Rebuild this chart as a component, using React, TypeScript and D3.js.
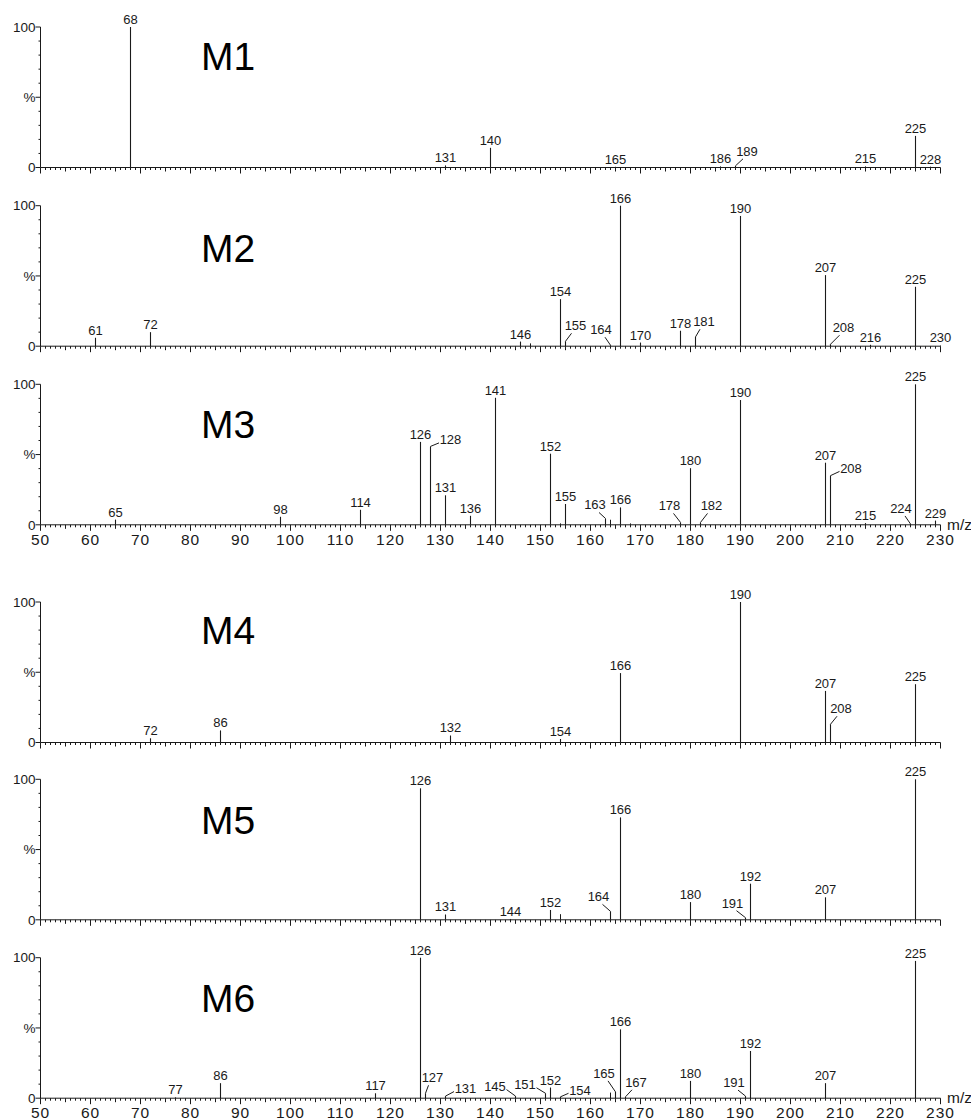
import React from "react";
import * as d3 from "d3";

// ---------- data ----------
const titles = ["M1", "M2", "M3", "M4", "M5", "M6"];

const m1Mz = [68, 131, 140, 165, 186, 189, 215, 225, 228];
const m1Int = [100, 1.5, 14, 0.5, 0.8, 1.2, 0.8, 22.5, 0.6];

const m2Mz = [61, 72, 146, 154, 155, 164, 166, 170, 178, 181, 190, 207, 208, 216, 225, 230];
const m2Int = [6, 10, 3.3, 33.5, 3.5, 0.7, 100, 2.6, 11, 6.6, 92.7, 50.6, 1.4, 1, 42.3, 0.5];

const m3Mz = [65, 98, 114, 126, 128, 131, 136, 141, 152, 155, 163, 166, 178, 180, 182, 190, 207, 208, 215, 224, 225, 229];
const m3Int = [3.7, 5.7, 10.7, 59, 55.8, 21, 6.4, 90.4, 50.6, 14.8, 4.5, 12.4, 1.7, 40.3, 1.7, 88.8, 44.2, 35, 1.2, 0.6, 100, 3];

const m4Mz = [72, 86, 132, 154, 166, 190, 207, 208, 225];
const m4Int = [3, 8.6, 5, 2.5, 49.4, 100, 36.7, 13, 41.5];

const m5Mz = [126, 131, 144, 152, 164, 166, 180, 191, 192, 207, 225];
const m5Int = [93.6, 3.8, 0.6, 7, 6, 72.9, 12.6, 1.5, 25.7, 16, 100];

const m6Mz = [77, 86, 117, 126, 127, 131, 145, 151, 152, 154, 165, 166, 167, 180, 191, 192, 207, 225];
const m6Int = [0.6, 10.7, 3.5, 100, 3.5, 1.5, 1.5, 3.5, 7.6, 1, 4.5, 49, 1, 12.3, 1.5, 33.6, 10.7, 97.7];

// unlabeled minor peaks
const minorMz = [[], [148], [154, 164, 168], [], [154], [164]];
const minorInt = [[], [2], [1, 3.6, 1], [], [4], [4]];

const xTickValues = d3.range(50, 231, 10);
const yTickLabels = ["0", "%", "100"];

// ---------- layout ----------
const W = 971;
const H = 1120;
const panelTops = [27, 205.7, 384.3, 602, 779.3, 957.7];
const panelH = 140.5;
const titleBaselines = [70, 262, 438, 644, 834, 1012];
const titleX = 201;
const panelsWithXLabels = [2, 5];
// leader-line labels: [panel, mz, label dx, label rise above bar top]
const leaders: [number, number, number, number][] = [
  [0, 189, 11.5, 10],
  [1, 155, 10, 11], [1, 164, -9.5, 11], [1, 181, 8.5, 10.7], [1, 208, 13, 12],
  [2, 128, 20, 2], [2, 163, -10.5, 9], [2, 178, -11, 12], [2, 182, 11, 12], [2, 208, 20.5, 2.7], [2, 224, -9.5, 11],
  [3, 208, 10.5, 11],
  [4, 164, -12, 10], [4, 191, -13, 10],
  [5, 127, 7, 11], [5, 131, 20, 3], [5, 145, -20.5, 5], [5, 151, -20.5, 4], [5, 154, 19.5, 2],
  [5, 165, -11.5, 14], [5, 167, 10.5, 10], [5, 191, -11.5, 9],
];

const FONT = "'Liberation Sans', Arial, Helvetica, sans-serif";
const INK = "#1a1a1a";

const allMz = [m1Mz, m2Mz, m3Mz, m4Mz, m5Mz, m6Mz];
const allInt = [m1Int, m2Int, m3Int, m4Int, m5Int, m6Int];

const x = d3.scaleLinear().domain([50, 230]).range([40.5, 940.5]);

function Panel({ i }: { i: number }) {
  const top = panelTops[i];
  const zero = top + panelH;
  const y = d3.scaleLinear().domain([0, 100]).range([zero, top]);
  const mz = allMz[i];
  const ints = allInt[i];
  const minorTicks = d3.range(50, 231, 1);
  const yMinor = d3.range(0, 101, 10);

  return (
    <g>
      {/* y axis */}
      <line x1={x(50)} x2={x(50)} y1={y(0)} y2={y(100)} stroke={INK} strokeWidth={1} />
      {yMinor.map((v) => {
        const major = v === 0 || v === 50 || v === 100;
        return (
          <line key={"ym" + v} x1={x(50) - (major ? 5 : 2)} x2={x(50)} y1={y(v)} y2={y(v)} stroke={INK} strokeWidth={1} />
        );
      })}
      {[0, 50, 100].map((v, k) => (
        <text key={"yl" + v} x={x(50) - 5} y={y(v)} dy="0.35em" textAnchor="end" fontSize={13.5} fontFamily={FONT} fill={INK}>
          {yTickLabels[k]}
        </text>
      ))}
      {/* x axis */}
      <line x1={x(50)} x2={x(230)} y1={zero} y2={zero} stroke={INK} strokeWidth={1} />
      {minorTicks.map((v) => {
        const len = v % 10 === 0 ? 6 : v % 5 === 0 ? 4 : 2.5;
        return <line key={"xt" + v} x1={x(v)} x2={x(v)} y1={zero} y2={zero + len} stroke={INK} strokeWidth={1} />;
      })}
      {panelsWithXLabels.includes(i) &&
        xTickValues.map((v) => (
          <text key={"xl" + v} x={x(v)} y={zero + 20} textAnchor="middle" fontSize={15.5} letterSpacing={1} fontFamily={FONT} fill={INK}>
            {v}
          </text>
        ))}
      {panelsWithXLabels.includes(i) && (
        <text x={947} y={zero + 5} fontSize={15.5} fontFamily={FONT} fill={INK}>
          m/z
        </text>
      )}
      {/* title */}
      <text x={titleX} y={titleBaselines[i]} fontSize={39} fontFamily={FONT} fill="#000">
        {titles[i]}
      </text>
      {/* minor peaks */}
      {minorMz[i].map((m, k) => (
        <line key={"mn" + m} x1={x(m)} x2={x(m)} y1={zero} y2={y(minorInt[i][k])} stroke={INK} strokeWidth={1} />
      ))}
      {/* labelled peaks */}
      {mz.map((m, k) => {
        const px = x(m);
        const py = y(ints[k]);
        const ld = leaders.find((l) => l[0] === i && l[1] === m);
        let label;
        let lead = null;
        if (ld) {
          const lx = px + ld[2];
          const ly = py - ld[3];
          const s = Math.sign(ld[2]);
          const side = ld[3] < 6;
          const ex = lx - s * (side ? 11.5 : 4);
          const ey = side ? ly - 1.5 : ly + 3;
          lead = <line x1={px} y1={py} x2={ex} y2={ey} stroke={INK} strokeWidth={1} />;
          label = (
            <text x={lx} y={ly} textAnchor="middle" fontSize={13} fontFamily={FONT} fill={INK}>
              {m}
            </text>
          );
        } else {
          label = (
            <text x={px} y={py - 3} textAnchor="middle" fontSize={13} fontFamily={FONT} fill={INK}>
              {m}
            </text>
          );
        }
        return (
          <g key={"pk" + m}>
            <line x1={px} x2={px} y1={zero} y2={py} stroke={INK} strokeWidth={1.1} />
            {lead}
            {label}
          </g>
        );
      })}
    </g>
  );
}

export default function App() {
  return (
    <div style={{ position: "absolute", left: 0, top: 0 }}>
      <svg width={W} height={H} viewBox={`0 0 ${W} ${H}`} style={{ display: "block", background: "#fff" }}>
        <rect x={0} y={0} width={W} height={H} fill="#fff" />
        {titles.map((_, i) => (
          <Panel key={i} i={i} />
        ))}
      </svg>
    </div>
  );
}
